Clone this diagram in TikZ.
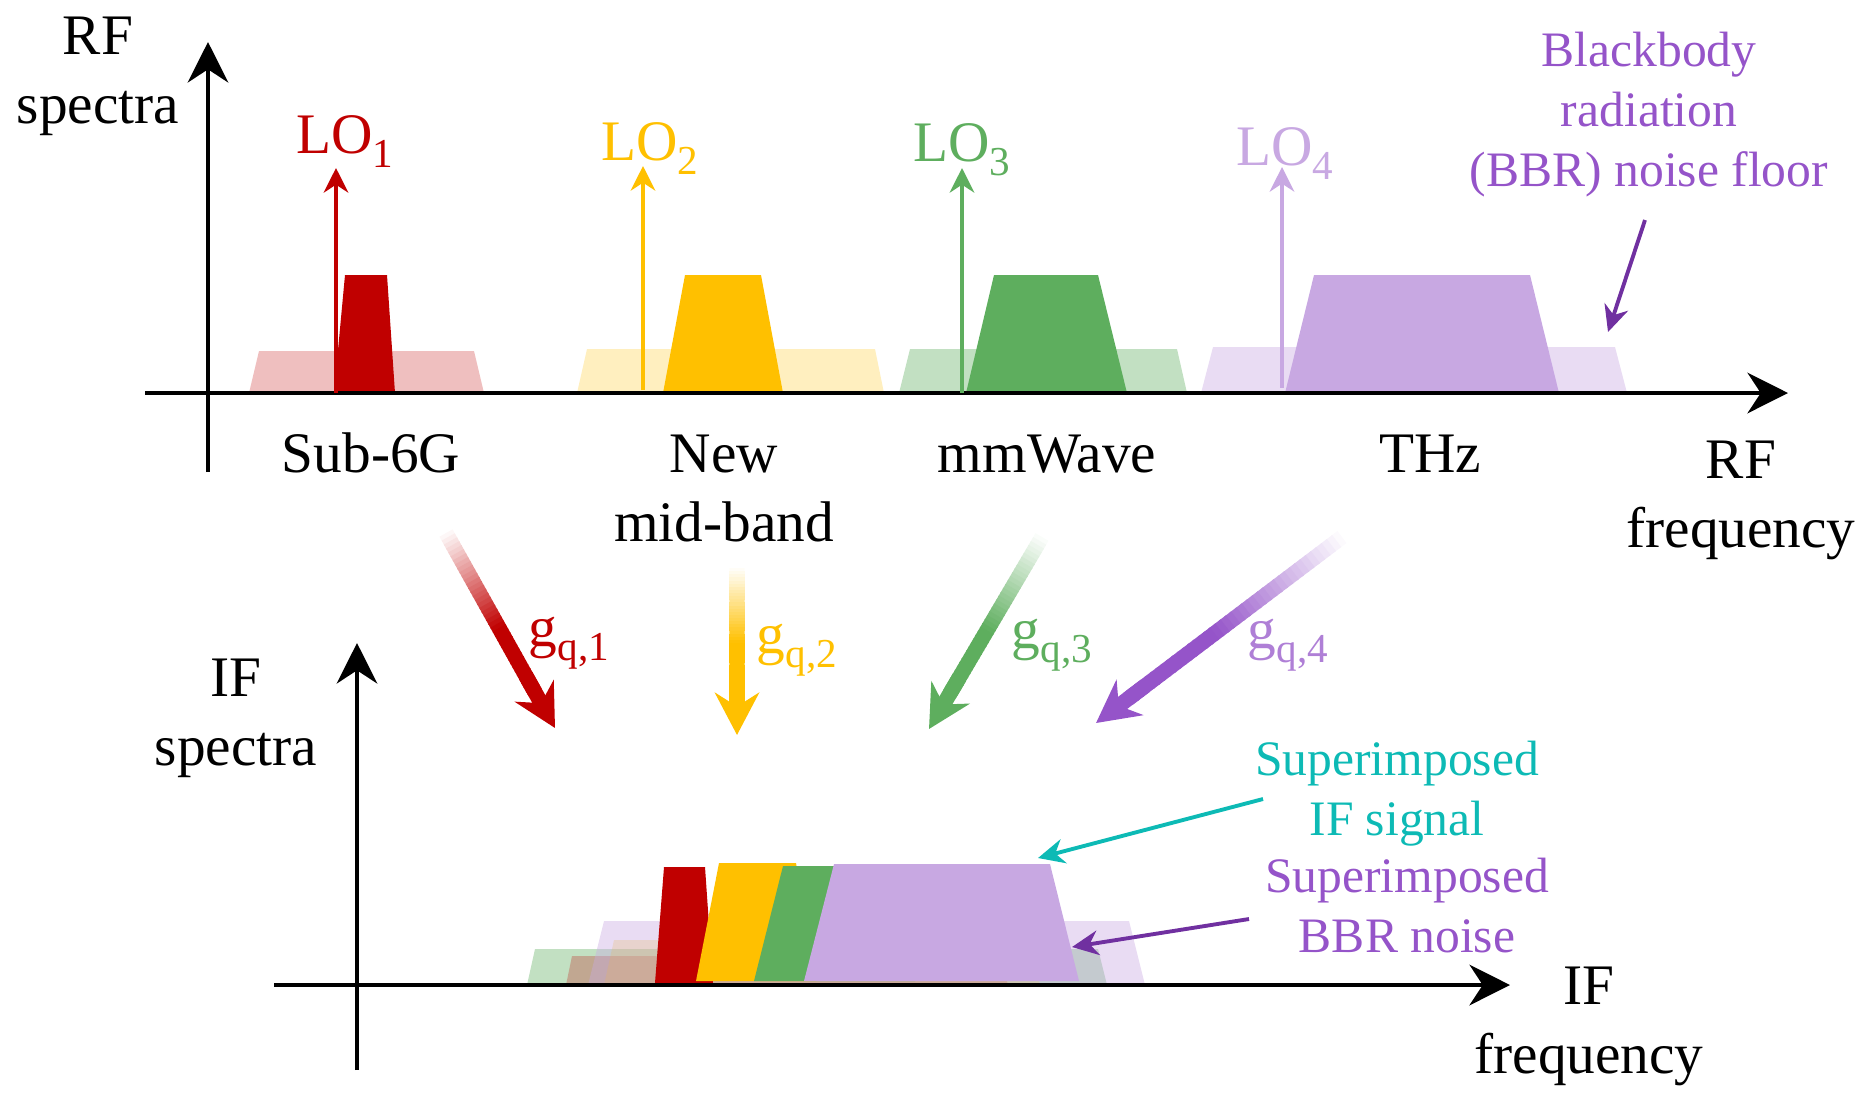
\documentclass[tikz,border=0pt]{standalone}
\usepackage{fontspec}
\setmainfont{Liberation Serif}
\usetikzlibrary{arrows.meta,calc}
\definecolor{cRed}{HTML}{C00000}
\definecolor{cYel}{HTML}{FFC000}
\definecolor{cGrn}{HTML}{5EAE5E}
\definecolor{cLav}{HTML}{C8A8E2}
\definecolor{cPur}{HTML}{9554C9}
\definecolor{cDark}{HTML}{7030A0}
\definecolor{cCyan}{HTML}{0DBAB5}
\newcommand{\lowidx}[1]{\raisebox{-0.25em}{\fontsize{11.7}{12}\selectfont #1}}
\tikzset{
	axis/.style={line width=1.4pt,-{Stealth[length=11.5pt,width=11.5pt]}},
	lo/.style={line width=1.1pt,-{Stealth[length=7pt,width=7pt]}},
	annot/.style={line width=1.1pt,-{Stealth[length=7.5pt,width=7pt]}},
	txt/.style={font=\fontsize{16.3}{19.6}\selectfont,align=center,anchor=base,inner sep=0pt},
	anntxt/.style={font=\fontsize{14.1}{17}\selectfont,align=center,anchor=base,inner sep=0pt},
}
\begin{document}
\begin{tikzpicture}[x=0.01cm,y=-0.01cm]
	\useasboundingbox (0,0) rectangle (1864,1093);
	% RF spectra
	\coordinate (A0) at (145,393);
	\coordinate (A1) at (1788,393);
	\coordinate (B0) at (208,472);
	\coordinate (B1) at (208,42);
	\fill[cRed,fill opacity=0.25] (249,393) -- (259,351) -- (474,351) -- (484,393) -- cycle;
	\fill[cYel,fill opacity=0.25] (577,393) -- (587,349) -- (875,349) -- (884,393) -- cycle;
	\fill[cGrn,fill opacity=0.38] (899,393) -- (910,349) -- (1177,349) -- (1187,393) -- cycle;
	\fill[cLav,fill opacity=0.4] (1201,393) -- (1213,347) -- (1615,347) -- (1627,393) -- cycle;
	\fill[cRed] (334,393) -- (345,275) -- (387,275) -- (395,393) -- cycle;
	\fill[cYel] (663,393) -- (685,275) -- (761,275) -- (783,393) -- cycle;
	\fill[cGrn] (966,393) -- (994,275) -- (1098,275) -- (1127,393) -- cycle;
	\fill[cLav] (1285,393) -- (1314,275) -- (1530,275) -- (1559,393) -- cycle;
	\draw[axis] (A0) -- (A1);
	\draw[axis] (B0) -- (B1);
	\coordinate (L1) at (336,168);
	\coordinate (L2) at (643,166);
	\coordinate (L3) at (962,168);
	\coordinate (L4) at (1282,167);
	\draw[lo,cRed] (336,393) -- (L1);
	\draw[lo,cYel] (643,390) -- (L2);
	\draw[lo,cGrn] (962,393) -- (L3);
	\draw[lo,cLav] (1282,388) -- (L4);
	\node[txt,cRed] (lo1) at (345,153) {LO\lowidx{1}};
	\node[txt,cYel] (lo2) at (650,160) {LO\lowidx{2}};
	\node[txt,cGrn] (lo3) at (962,161) {LO\lowidx{3}};
	\node[txt,cLav] (lo4) at (1285,165) {LO\lowidx{4}};
	\node[txt] (rfspec) at (98,123) {RF\\spectra};
	\node[txt] (sub6) at (371,472) {Sub-6G};
	\node[txt] (mid) at (724,541) {New\\mid-band};
	\node[txt] (mmw) at (1047,472) {mmWave};
	\node[txt] (thz) at (1430,472) {THz};
	\node[txt] (rffreq) at (1741,547) {RF\\frequency};
	\node[anntxt,cPur] (bbr) at (1649,186) {Blackbody\\radiation\\(BBR) noise floor};
	\coordinate (N0) at (1645,220);
	\coordinate (N1) at (1608,332);
	\draw[annot,cDark] (N0) -- (N1);
	% down-conversion
	\coordinate (R0) at (446,533);
	\coordinate (R1) at (555,728);
	\coordinate (Y0) at (737,568);
	\coordinate (Y1) at (737,735);
	\coordinate (G0) at (1042,537);
	\coordinate (G1) at (929,729);
	\coordinate (V0) at (1342,537);
	\coordinate (V1) at (1096,723);
	\foreach \c/\a/\b in {cRed/R0/R1,cYel/Y0/Y1,cGrn/G0/G1,cPur/V0/V1}{
		\coordinate (H) at ($(\b)!0.42cm!(\a)$);
		\foreach \s in {0,...,39}{
			\pgfmathtruncatemacro\p{min(100,3+100*\s/24)}
			\draw[line width=4.3pt,draw={\c!\p!white}] ($(\a)!{\s/40}!(H)$) -- ($(\a)!{(\s+1.3)/40}!(H)$);
		}
		\draw[line width=4.3pt,\c,-{Stealth[length=12pt,width=12.5pt]}] ($(\b)!0.6cm!(\a)$) -- (\b);
	}
	\node[txt,cRed] (gq1) at (569,646) {g\lowidx{q,1}};
	\node[txt,cYel] (gq2) at (797,653) {g\lowidx{q,2}};
	\node[txt,cGrn] (gq3) at (1052,648) {g\lowidx{q,3}};
	\node[txt,cPur!75!white] (gq4) at (1288,648) {g\lowidx{q,4}};
	% IF spectra
	\coordinate (C0) at (274,985);
	\coordinate (C1) at (1510,985);
	\coordinate (D0) at (357,1070);
	\coordinate (D1) at (357,643);
	\fill[cGrn,fill opacity=0.38] (527,985) -- (535,949) -- (1098,949) -- (1107,985) -- cycle;
	\fill[cRed,fill opacity=0.25] (566,985) -- (572,956) -- (1000,956) -- (1008,985) -- cycle;
	\fill[cYel,fill opacity=0.25] (604,985) -- (614,940) -- (1030,940) -- (1040,985) -- cycle;
	\fill[cLav,fill opacity=0.4] (588,985) -- (604,921) -- (1129,921) -- (1145,985) -- cycle;
	\fill[cRed] (655,983) -- (664,867) -- (705,867) -- (713,983) -- cycle;
	\fill[cYel] (696,981) -- (719,863) -- (796,863) -- (816,981) -- cycle;
	\fill[cGrn] (754,981) -- (783,866) -- (887,866) -- (915,981) -- cycle;
	\fill[cLav] (804,981) -- (834,864) -- (1050,864) -- (1079,981) -- cycle;
	\draw[axis] (C0) -- (C1);
	\draw[axis] (D0) -- (D1);
	\node[txt] (ifspec) at (236,765) {IF\\spectra};
	\node[txt] (iffreq) at (1589,1073) {IF\\frequency};
	\node[anntxt,cCyan] (ifsig) at (1397,835) {Superimposed\\IF signal};
	\node[anntxt,cPur] (ifbbr) at (1407,952) {Superimposed\\BBR noise};
	\coordinate (S0) at (1263,799);
	\coordinate (S1) at (1038,858);
	\coordinate (T0) at (1249,919);
	\coordinate (T1) at (1072,947);
	\draw[annot,cCyan] (S0) -- (S1);
	\draw[annot,cDark] (T0) -- (T1);
\end{tikzpicture}
\end{document}
